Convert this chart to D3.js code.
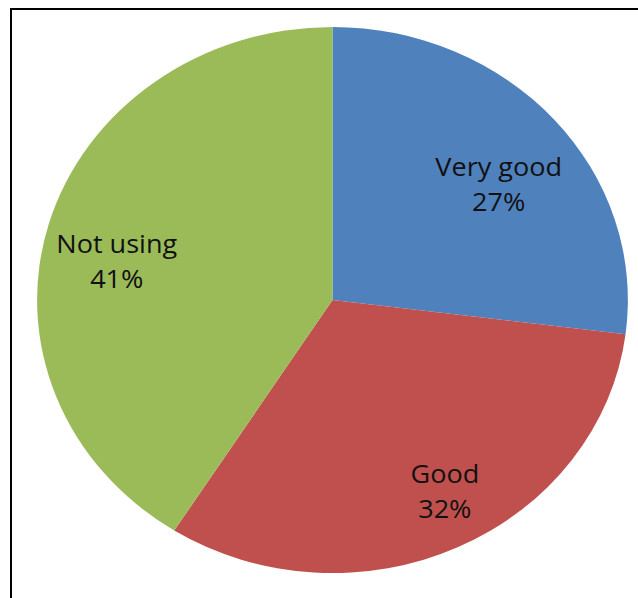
<!DOCTYPE html>
<html>
<head>
<meta charset="utf-8">
<script src="https://cdn.jsdelivr.net/npm/d3@7/dist/d3.min.js"></script>
<style>
  html, body { margin: 0; padding: 0; background: #fff; }
  svg { display: block; }
</style>
</head>
<body>
<script>
// Survey answers and their shares (percent)
const categories = ["Very good", "Good", "Not using"];
const values = [27, 32, 41];
const colors = ["#4F81BD", "#C0504D", "#9BBB59"];

// Small per-slice label nudges (px) for best-fit placement
const labelNudge = [[0, 20], [18, 6], [-3, 19]];

const W = 638, H = 598;
const cx = 332.5, cy = 300;
const R = 273;          // vertical radius
const sx = 1.082;       // horizontal stretch of the pie

const svg = d3.select("body").append("svg")
  .attr("width", W).attr("height", H);

// chart frame
svg.append("path")
  .attr("d", "M11,700 L11,9 L700,9")
  .attr("fill", "none")
  .attr("stroke", "#000")
  .attr("stroke-width", 2);

const pie = d3.pie().sort(null).value(d => d)(values);
const arc = d3.arc().innerRadius(0).outerRadius(R);
const labelArc = d3.arc().innerRadius(R * 0.75).outerRadius(R * 0.75);

const g = svg.append("g")
  .attr("transform", `translate(${cx},${cy}) scale(${sx},1)`);

g.selectAll("path.slice")
  .data(pie)
  .join("path")
  .attr("class", "slice")
  .attr("d", arc)
  .attr("fill", (d, i) => colors[i]);

const fs = 25, lineGap = 35, cap = fs * 0.714;

const labels = g.selectAll("text.lbl")
  .data(pie)
  .join("text")
  .attr("class", "lbl")
  .attr("font-family", "'Open Sans', sans-serif")
  .attr("font-size", fs)
  .attr("fill", "#111")
  .attr("text-anchor", "middle")
  .attr("transform", (d, i) => {
    const [x, y] = labelArc.centroid(d);
    return `translate(${x + labelNudge[i][0] / sx},${y + labelNudge[i][1]})`;
  });

labels.append("tspan")
  .attr("x", 0)
  .attr("y", -(lineGap + cap) / 2 + cap)
  .text((d, i) => categories[i]);

labels.append("tspan")
  .attr("x", 0)
  .attr("y", -(lineGap + cap) / 2 + cap + lineGap)
  .text(d => d3.format("d")(d.data) + "%");
</script>
</body>
</html>
